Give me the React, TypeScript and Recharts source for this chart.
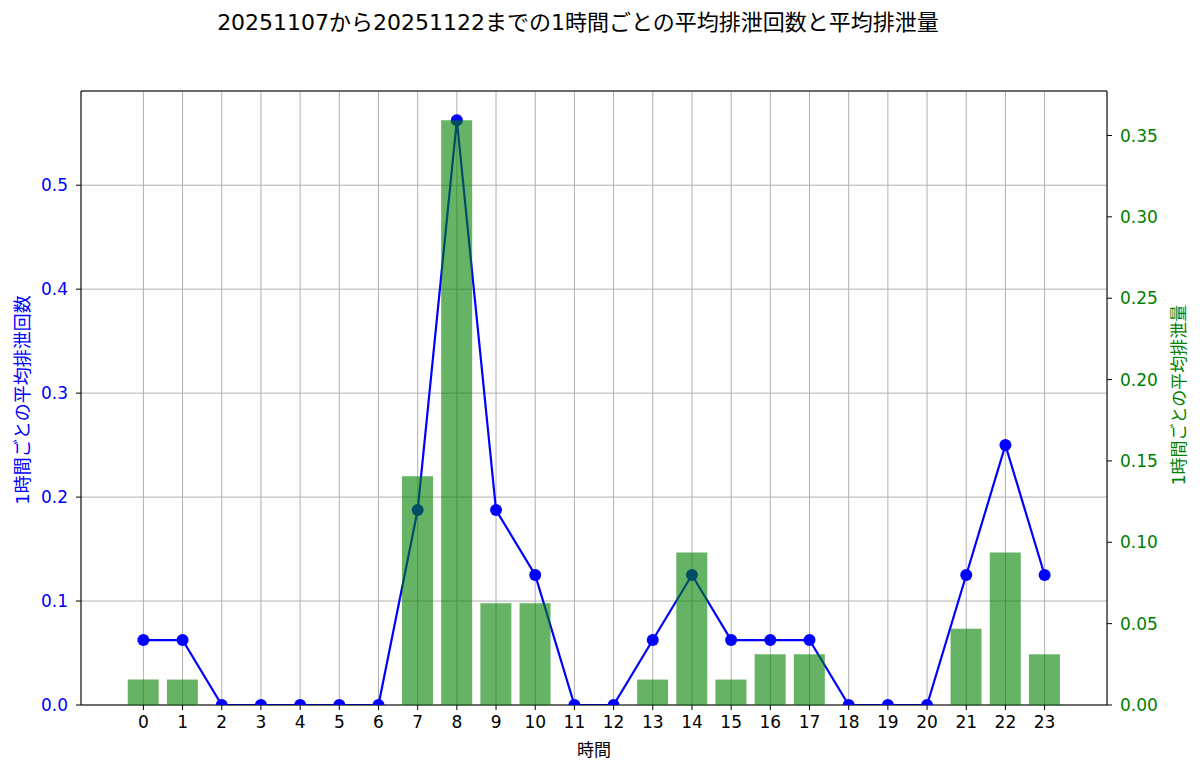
import React from 'react';
import {
  ComposedChart,
  Bar,
  Line,
  XAxis,
  YAxis,
  CartesianGrid,
  ReferenceLine,
} from 'recharts';

const hours = ['0', '1', '2', '3', '4', '5', '6', '7', '8', '9', '10', '11', '12', '13', '14', '15', '16', '17', '18', '19', '20', '21', '22', '23'];
const avgCounts = [0.0625, 0.0625, 0, 0, 0, 0, 0, 0.1875, 0.5625, 0.1875, 0.125, 0, 0, 0.0625, 0.125, 0.0625, 0.0625, 0.0625, 0, 0, 0, 0.125, 0.25, 0.125];
const avgAmounts = [0.015625, 0.015625, 0, 0, 0, 0, 0, 0.140625, 0.359375, 0.0625, 0.0625, 0, 0, 0.015625, 0.09375, 0.015625, 0.03125, 0.03125, 0, 0, 0, 0.046875, 0.09375, 0.03125];
const leftTicks = [0, 0.1, 0.2, 0.3, 0.4, 0.5];
const rightTicks = [0, 0.05, 0.1, 0.15, 0.2, 0.25, 0.3, 0.35];
const leftMax = 0.590625;
const rightMax = 0.37734375;

const titleText = '20251107から20251122までの1時間ごとの平均排泄回数と平均排泄量';
const leftLabel = '1時間ごとの平均排泄回数';
const rightLabel = '1時間ごとの平均排泄量';
const xLabel = '時間';

const data = hours.map((h, i) => ({ hour: h, count: avgCounts[i], amount: avgAmounts[i] }));

const FONT = "'DejaVu Sans', 'Noto Sans CJK JP', sans-serif";

export default function App() {
  return (
    <div style={{ position: 'absolute', left: 0, top: 0, width: 1200, height: 775, fontFamily: FONT, background: '#fff' }}>
      <ComposedChart
        width={1200}
        height={775}
        data={data}
        margin={{ top: 91, right: 33, bottom: 40, left: 21 }}
        barCategoryGap="10%"
      >
        <CartesianGrid yAxisId="left" stroke="#b0b0b0" strokeWidth={1} />
        <XAxis
          dataKey="hour"
          type="category"
          padding={{ left: 42.8, right: 42.8 }}
          height={30}
          tickSize={5}
          tickMargin={6}
          interval={0}
          tick={{ fill: '#000', fontSize: 17 }}
          tickLine={{ stroke: '#000' }}
          axisLine={{ stroke: '#000' }}
        />
        <YAxis
          yAxisId="left"
          orientation="left"
          width={60}
          domain={[0, leftMax]}
          ticks={leftTicks}
          allowDataOverflow
          tickFormatter={(v: number) => v.toFixed(1)}
          tickSize={5}
          tickMargin={8}
          tick={{ fill: '#0000ff', fontSize: 17 }}
          tickLine={{ stroke: '#000' }}
          axisLine={{ stroke: '#000' }}
        />
        <YAxis
          yAxisId="right"
          orientation="right"
          width={60}
          domain={[0, rightMax]}
          ticks={rightTicks}
          allowDataOverflow
          tickFormatter={(v: number) => v.toFixed(2)}
          tickSize={5}
          tickMargin={8}
          tick={{ fill: '#008000', fontSize: 17 }}
          tickLine={{ stroke: '#000' }}
          axisLine={{ stroke: '#000' }}
        />
        <ReferenceLine yAxisId="left" y={leftMax} stroke="#000" strokeWidth={1} />
        <Line
          yAxisId="left"
          dataKey="count"
          type="linear"
          stroke="#0000ff"
          strokeWidth={2.2}
          dot={{ r: 6, fill: '#0000ff', stroke: '#0000ff', strokeWidth: 0 }}
          activeDot={false}
          isAnimationActive={false}
          zIndex={400}
        />
        <Bar
          yAxisId="right"
          dataKey="amount"
          fill="#008000"
          fillOpacity={0.6}
          isAnimationActive={false}
          zIndex={700}
        />
      </ComposedChart>
      <svg width={1200} height={775} style={{ position: 'absolute', left: 0, top: 0, pointerEvents: 'none' }}>
        <text x={578} y={22} textAnchor="middle" dominantBaseline="central" fontSize={22} fill="#000" fontFamily={FONT}>
          {titleText}
        </text>
        <text x={22} y={400} transform="rotate(-90 22 400)" textAnchor="middle" dominantBaseline="central" fontSize={18} fill="#0000ff" fontFamily={FONT}>
          {leftLabel}
        </text>
        <text x={1179} y={395} transform="rotate(-90 1179 395)" textAnchor="middle" dominantBaseline="central" fontSize={17} fill="#008000" fontFamily={FONT}>
          {rightLabel}
        </text>
        <text x={594} y={750} textAnchor="middle" dominantBaseline="central" fontSize={17} fill="#000" fontFamily={FONT}>
          {xLabel}
        </text>
      </svg>
    </div>
  );
}
